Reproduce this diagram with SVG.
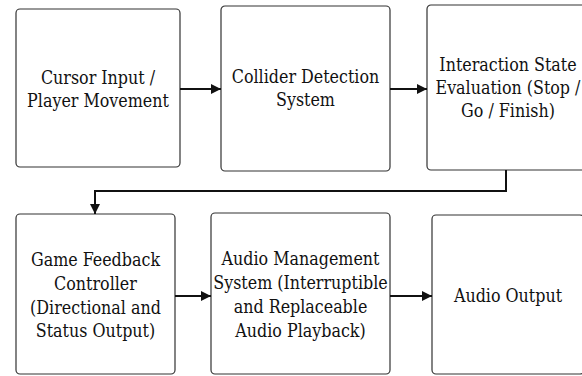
<svg xmlns="http://www.w3.org/2000/svg" width="582" height="376" viewBox="0 0 582 376">
  <style>
    .box { fill: #ffffff; stroke: #333333; stroke-width: 1.2; }
    .lbl { font-family: "DejaVu Serif Condensed", "DejaVu Serif", serif; font-stretch: condensed; font-size: 17.7px; fill: #111111; text-anchor: middle; }
    .edge { fill: none; stroke: #111111; stroke-width: 2; }
  </style>
  <defs>
    <marker id="arrow" viewBox="0 0 10 10" refX="10" refY="5" markerWidth="5" markerHeight="5" orient="auto" markerUnits="strokeWidth">
      <path d="M0,0 L10,5 L0,10 Z" fill="#111111"/>
    </marker>
  </defs>
  <rect width="582" height="376" fill="#ffffff"/>

  <!-- top row -->
  <g id="cursor-input">
    <rect class="box" x="16" y="9" width="164" height="158" rx="4"/>
    <text class="lbl" x="98" y="84">Cursor Input /</text>
    <text class="lbl" x="98" y="107">Player Movement</text>
  </g>
  <g id="collider-detection">
    <rect class="box" x="221" y="6" width="169" height="165" rx="4"/>
    <text class="lbl" x="305.5" y="83">Collider Detection</text>
    <text class="lbl" x="305.5" y="106">System</text>
  </g>
  <g id="interaction-state">
    <rect class="box" x="427" y="5" width="162" height="165" rx="4"/>
    <text class="lbl" x="508" y="71">Interaction State</text>
    <text class="lbl" x="508" y="94">Evaluation (Stop /</text>
    <text class="lbl" x="508" y="117">Go / Finish)</text>
  </g>

  <!-- bottom row -->
  <g id="game-feedback">
    <rect class="box" x="16" y="214" width="159" height="160" rx="4"/>
    <text class="lbl" x="95.5" y="266">Game Feedback</text>
    <text class="lbl" x="95.5" y="290">Controller</text>
    <text class="lbl" x="95.5" y="314">(Directional and</text>
    <text class="lbl" x="95.5" y="337">Status Output)</text>
  </g>
  <g id="audio-management">
    <rect class="box" x="211" y="213" width="179" height="161" rx="4"/>
    <text class="lbl" x="300.5" y="265">Audio Management</text>
    <text class="lbl" x="300.5" y="289">System (Interruptible</text>
    <text class="lbl" x="300.5" y="313">and Replaceable</text>
    <text class="lbl" x="300.5" y="337">Audio Playback)</text>
  </g>
  <g id="audio-output">
    <rect class="box" x="432" y="215" width="152" height="159" rx="4"/>
    <text class="lbl" x="508" y="302">Audio Output</text>
  </g>

  <!-- connectors -->
  <g id="connectors">
    <path class="edge" d="M180,89 L221,89" marker-end="url(#arrow)"/>
    <path class="edge" d="M390,89 L427,89" marker-end="url(#arrow)"/>
    <path class="edge" d="M506,170 L506,191 L95,191 L95,214" marker-end="url(#arrow)"/>
    <path class="edge" d="M175,296 L211,296" marker-end="url(#arrow)"/>
    <path class="edge" d="M390,296 L432,296" marker-end="url(#arrow)"/>
  </g>
</svg>
